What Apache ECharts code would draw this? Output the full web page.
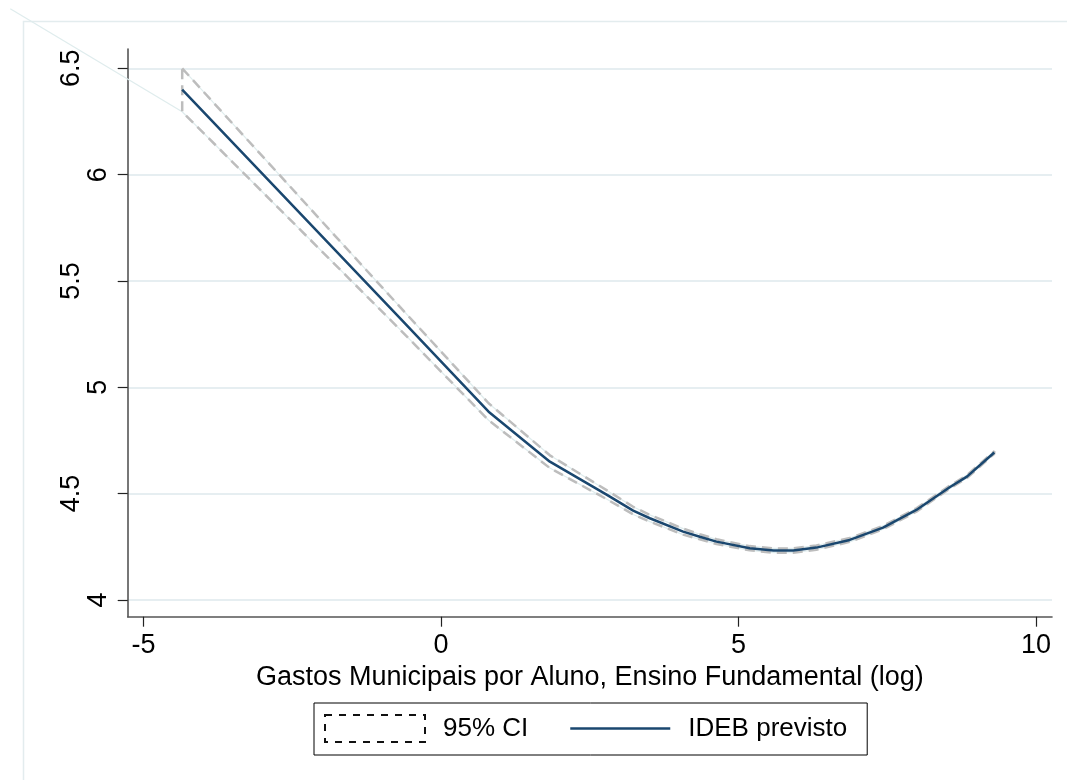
<!DOCTYPE html>
<html>
<head>
<meta charset="utf-8">
<script src="https://cdn.jsdelivr.net/npm/echarts@6/dist/echarts.min.js"></script>
<style>
  html, body { margin: 0; padding: 0; background: #fff; }
  #chart { width: 1067px; height: 780px; }
</style>
</head>
<body>
<div id="chart"></div>
<script>
// x values (log spending) shared by the prediction and its CI
var gastoLog = [-4.35, -0.69, 0.80, 1.83, 2.79, 3.23, 3.51, 4.07, 4.35, 4.63, 5.19, 5.59, 5.92, 6.31, 6.87, 7.43, 7.99, 8.55, 8.84, 9.30];
var idebPrevisto = [6.400, 5.325, 4.885, 4.650, 4.494, 4.420, 4.384, 4.321, 4.297, 4.274, 4.243, 4.232, 4.232, 4.246, 4.282, 4.340, 4.423, 4.530, 4.580, 4.693];
var ciUpper = [6.500, 5.378, 4.925, 4.680, 4.515, 4.438, 4.400, 4.335, 4.309, 4.285, 4.253, 4.242, 4.242, 4.256, 4.291, 4.348, 4.431, 4.537, 4.587, 4.699];
var ciLower = [6.296, 5.272, 4.845, 4.620, 4.473, 4.402, 4.368, 4.307, 4.285, 4.263, 4.233, 4.222, 4.222, 4.236, 4.273, 4.332, 4.415, 4.523, 4.573, 4.687];
// stray point of the CI polygon (the faint diagonal in the top-left corner)
var ciStray = [-7.24, 6.78];

var xTicks = [-5, 0, 5, 10];
var yTicks = [4, 4.5, 5, 5.5, 6, 6.5];
var yLabelsWhole = [4, 5, 6];
var yLabelsHalf = [4.5, 5.5, 6.5];
var xRange = [-5.266, 10.27];
var yRange = [3.921, 6.591];

var FONT = 'Liberation Sans, Arial, sans-serif';
var W = 1067, H = 780;
var G = { left: 127.7, right: 15, top: 49, bottom: 163.3 };

// a second, invisible grid spanning the whole canvas with the same scale,
// so the stray polygon edge can run outside the plot region
var pxPerX = (W - G.left - G.right) / (xRange[1] - xRange[0]);
var pxPerY = (H - G.top - G.bottom) / (yRange[1] - yRange[0]);
var xFull = [xRange[0] - G.left / pxPerX, xRange[1] + G.right / pxPerX];
var yFull = [yRange[0] - G.bottom / pxPerY, yRange[1] + G.top / pxPerY];

// polygon outline of the CI band: upper left->right, lower right->left
var upperPts = gastoLog.map(function (x, i) { return [x, ciUpper[i]]; });
var lowerPts = gastoLog.map(function (x, i) { return [x, ciLower[i]]; }).reverse();
var ciOutline = upperPts.concat(lowerPts).concat([upperPts[0]]);
var ciEdge = upperPts.concat(lowerPts).concat([ciStray]);
var lineData = gastoLog.map(function (x, i) { return [x, idebPrevisto[i]]; });

var myChart = echarts.init(document.getElementById('chart'), null, { renderer: 'canvas' });

var hiddenAxis = {
    axisLine: { show: false }, axisTick: { show: false },
    axisLabel: { show: false }, splitLine: { show: false }
};

var option = {
    animation: false,
    backgroundColor: '#fff',
    textStyle: { fontFamily: FONT },
    graphic: [{
        type: 'rect',
        silent: true,
        shape: { x: 23.5, y: 21.5, width: 1200, height: 900 },
        style: { fill: null, stroke: '#e3ecee', lineWidth: 1.5 }
    }],
    grid: [
        { left: G.left, right: G.right, top: G.top, bottom: G.bottom, containLabel: false },
        { left: 0, right: 0, top: 0, bottom: 0, containLabel: false }
    ],
    legend: {
        left: 314,
        top: 703,
        orient: 'horizontal',
        padding: [11, 20, 12, 10],
        itemGap: 42,
        itemWidth: 100,
        itemHeight: 27,
        borderColor: '#000',
        borderWidth: 1,
        borderRadius: 0,
        selectedMode: false,
        textStyle: { fontSize: 26, color: '#000', fontFamily: FONT, padding: [0, 0, 0, 13] },
        data: [
            { name: '95% CI', icon: 'rect',
              itemStyle: { color: '#fff', borderColor: '#111', borderWidth: 2, borderType: [7, 7] } },
            { name: 'IDEB previsto', icon: 'path://M0,0 L100,0 L100,2.5 L0,2.5 Z',
              itemStyle: { color: '#1a476f' } }
        ]
    },
    xAxis: [{
        type: 'value',
        gridIndex: 0,
        min: xRange[0],
        max: xRange[1],
        name: 'Gastos Municipais por Aluno, Ensino Fundamental (log)',
        nameLocation: 'middle',
        nameGap: 41,
        nameTextStyle: { fontSize: 27, color: '#000', fontFamily: FONT },
        axisLine: { show: true, onZero: false, lineStyle: { color: '#555', width: 1.6 } },
        axisTick: { show: true, inside: false, length: 10, customValues: xTicks, lineStyle: { color: '#222', width: 1.2 } },
        axisLabel: { customValues: xTicks, margin: 15, fontSize: 27, color: '#000', fontFamily: FONT },
        splitLine: { show: false }
    }, Object.assign({ type: 'value', gridIndex: 1, min: xFull[0], max: xFull[1] }, hiddenAxis)],
    yAxis: [{
        type: 'value',
        gridIndex: 0,
        min: yRange[0],
        max: yRange[1],
        position: 'left',
        axisLine: { show: true, onZero: false, lineStyle: { color: '#555', width: 1.6 } },
        axisTick: { show: true, inside: false, length: 10, customValues: yTicks, lineStyle: { color: '#222', width: 1.2 } },
        axisLabel: { customValues: yLabelsWhole, rotate: 90, margin: 16, fontSize: 27, color: '#000', fontFamily: FONT },
        splitLine: { show: true, lineStyle: { color: '#e6eef1', width: 2 } }
    }, {
        // Stata offsets the longer rotated labels further out
        type: 'value',
        gridIndex: 0,
        min: yRange[0],
        max: yRange[1],
        position: 'left',
        axisLine: { show: false },
        axisTick: { show: false },
        axisLabel: { customValues: yLabelsHalf, rotate: 90, margin: 43, fontSize: 27, color: '#000', fontFamily: FONT },
        splitLine: { show: false }
    }, Object.assign({ type: 'value', gridIndex: 1, min: yFull[0], max: yFull[1] }, hiddenAxis)],
    series: [{
        name: 'ciEdge',
        type: 'line',
        xAxisIndex: 1,
        yAxisIndex: 2,
        data: ciEdge,
        symbol: 'none',
        clip: false,
        silent: true,
        lineStyle: { color: '#dfeced', width: 1.2 },
        z: 1
    }, {
        name: '95% CI',
        type: 'line',
        data: ciOutline,
        symbol: 'none',
        silent: true,
        itemStyle: { color: '#fff' },
        lineStyle: { color: '#bdbdbd', width: 2.5, type: [10, 6] },
        z: 2
    }, {
        name: 'IDEB previsto',
        type: 'line',
        data: lineData,
        symbol: 'none',
        silent: true,
        itemStyle: { color: '#1a476f' },
        lineStyle: { color: '#1a476f', width: 2.5 },
        z: 3
    }]
};

myChart.setOption(option);
</script>
</body>
</html>
